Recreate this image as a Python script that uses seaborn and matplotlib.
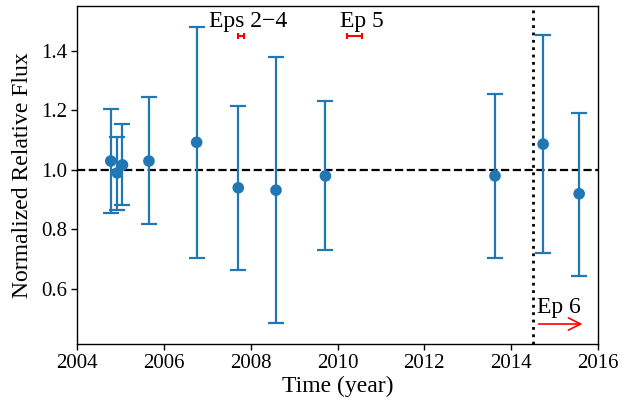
import matplotlib
matplotlib.use("Agg")
import matplotlib.pyplot as plt
import seaborn as sns
import numpy as np
import pandas as pd

# Epoch times and normalized flux with asymmetric error bounds
years = [2004.77, 2004.92, 2005.04, 2005.65, 2006.75, 2007.71, 2008.58, 2009.72, 2013.63, 2014.74, 2015.57]
flux = [1.030, 0.990, 1.017, 1.030, 1.093, 0.940, 0.932, 0.980, 0.980, 1.087, 0.920]
upper = [1.205, 1.110, 1.155, 1.245, 1.481, 1.216, 1.380, 1.232, 1.255, 1.455, 1.190]
lower = [0.855, 0.865, 0.882, 0.818, 0.704, 0.663, 0.487, 0.730, 0.705, 0.720, 0.645]

# Observing-window markers
ep_centers = [2007.78, 2010.39]
ep_halfwidths = [0.07, 0.17]
ep_labels = ["Eps 2\u22124", "Ep 5"]
ep_label_x = [2007.93, 2010.55]
ep_level = 1.45
ep6_start = 2014.5
ep6_arrow = [2014.57, 2015.71]

sns.set_style("ticks")
plt.rcParams["font.family"] = ["Liberation Serif", "DejaVu Serif"]
plt.rcParams["mathtext.fontset"] = "stix"
plt.rcParams["text.color"] = "black"
plt.rcParams["axes.labelcolor"] = "black"

df = pd.DataFrame({"year": years, "flux": flux, "upper": upper, "lower": lower})

fig = plt.figure(figsize=(6.24, 4.07), dpi=100)
ax = fig.add_axes([0.124, 0.155, 0.834, 0.830])

color = sns.color_palette("tab10")[0]
yerr = np.vstack([df["flux"] - df["lower"], df["upper"] - df["flux"]])
ax.errorbar(df["year"], df["flux"], yerr=yerr, fmt="none", ecolor=color,
            elinewidth=1.6, capsize=6, capthick=1.6, zorder=2)
sns.scatterplot(data=df, x="year", y="flux", ax=ax, color=color, s=70,
                edgecolor="none", zorder=3, legend=False)

ax.axhline(1.0, color="black", linestyle="--", linewidth=1.6, zorder=1)
ax.axvline(ep6_start, color="black", linestyle=":", linewidth=2, zorder=1)

for c, hw, lx, lab in zip(ep_centers, ep_halfwidths, ep_label_x, ep_labels):
    ax.errorbar([c], [ep_level], xerr=[hw], fmt="none", ecolor="red",
                elinewidth=1.5, capsize=2, capthick=1.5)
    ax.text(lx, 1.48, lab, ha="center", va="baseline", fontsize=17)

ax.annotate("", xy=(ep6_arrow[1], 0.482), xytext=(ep6_arrow[0], 0.482),
            arrowprops=dict(arrowstyle="->", color="red", lw=1.2, mutation_scale=22))
ax.text(2014.6, 0.52, "Ep 6", ha="left", va="baseline", fontsize=17)

ax.set_xlim(2004, 2016)
ax.set_ylim(0.415, 1.551)
ax.set_xticks([2004, 2006, 2008, 2010, 2012, 2014, 2016])
ax.set_yticks([0.6, 0.8, 1.0, 1.2, 1.4])
ax.tick_params(labelsize=15, direction="out", length=4, width=1, colors="black")
for sp in ax.spines.values():
    sp.set_color("black")
    sp.set_linewidth(1)
ax.set_xlabel("Time (year)", fontsize=17, labelpad=2)
ax.set_ylabel("Normalized Relative Flux", fontsize=17, labelpad=6)

fig.savefig("out.png", dpi=100)
